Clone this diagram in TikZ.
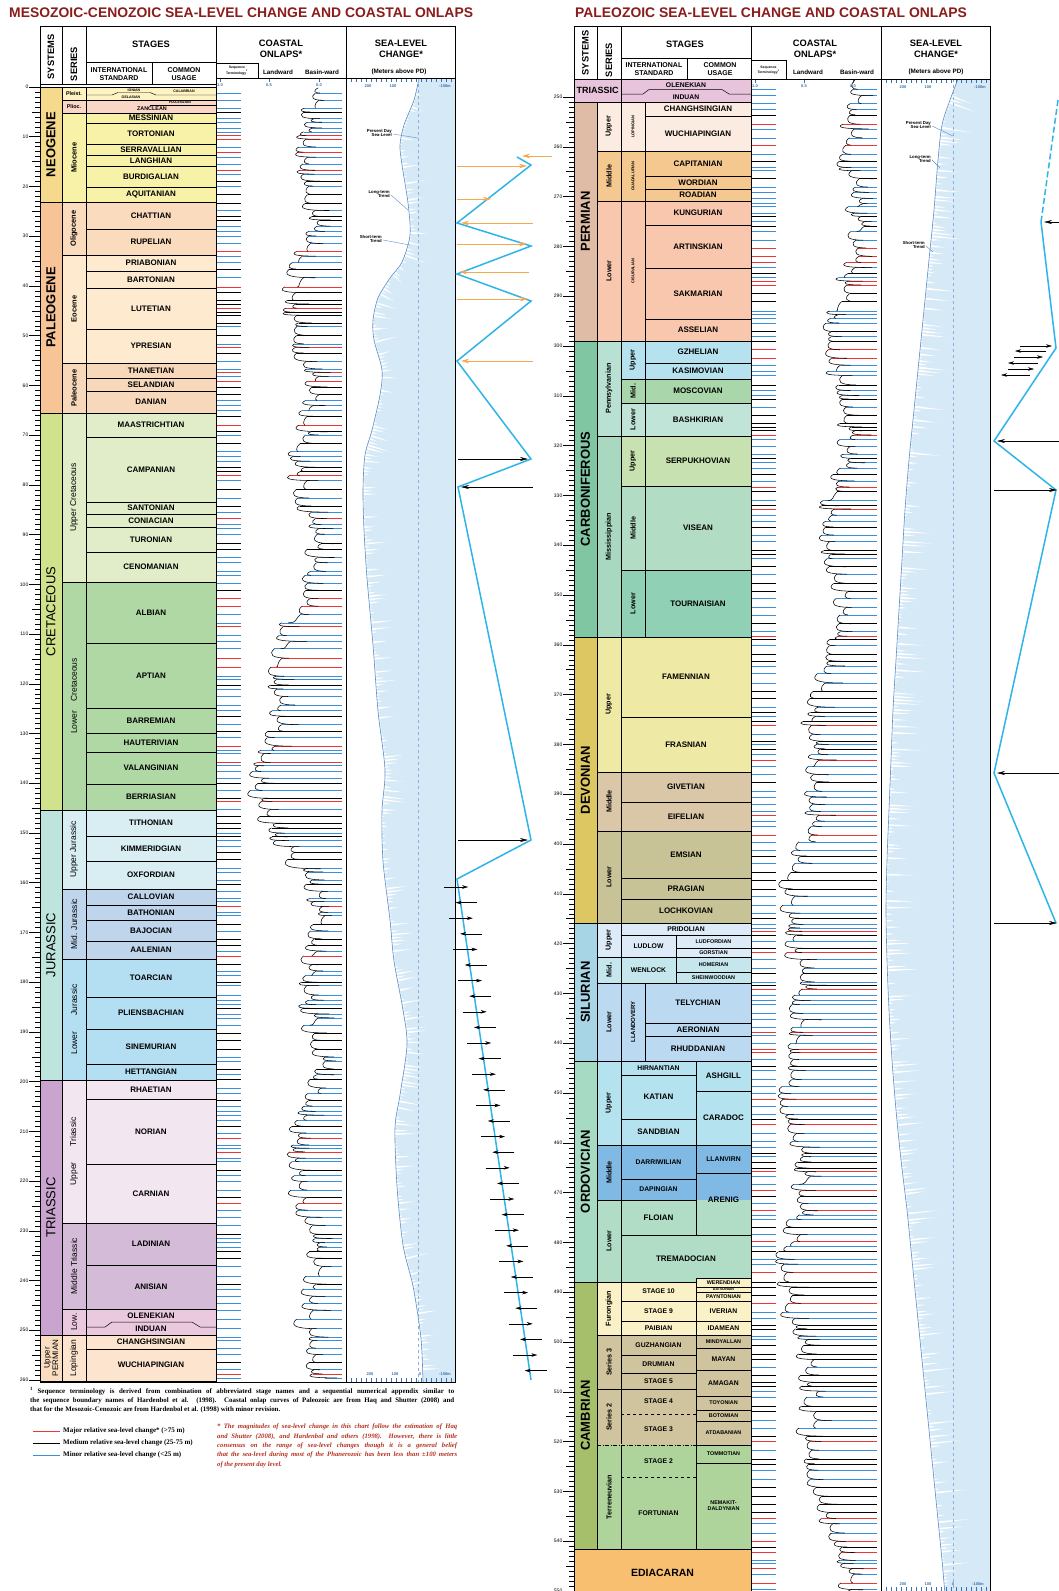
\documentclass[tikz,border=0pt]{standalone}
\usepackage{fontspec}
\setmainfont{Liberation Sans}
\newfontfamily\seriffont{Liberation Serif}
\usetikzlibrary{decorations.markings,arrows.meta}
% ---------- colours ----------
\definecolor{cNeoS}{HTML}{F5D98C}\definecolor{cPlei}{HTML}{FEF3C2}\definecolor{cPlio}{HTML}{F9D6C6}\definecolor{cMio}{HTML}{F8F1A8}
\definecolor{cPalS}{HTML}{F6C496}\definecolor{cOli}{HTML}{FBDBBD}\definecolor{cEoc}{HTML}{FDEACF}\definecolor{cPaleoc}{HTML}{F7D8BA}
\definecolor{cCreS}{HTML}{D0E28C}\definecolor{cUCre}{HTML}{E0EDC8}\definecolor{cLCre}{HTML}{B0D8A5}
\definecolor{cJurS}{HTML}{BEE4DE}\definecolor{cUJur}{HTML}{D8EEF3}\definecolor{cMJur}{HTML}{BFD5EC}\definecolor{cLJur}{HTML}{B4DFF3}
\definecolor{cTriS}{HTML}{C8A4CE}\definecolor{cUTri}{HTML}{F2E6F0}\definecolor{cMTri}{HTML}{D4BCD8}\definecolor{cLTri}{HTML}{EAC9DF}
\definecolor{cPerS}{HTML}{FADCC0}\definecolor{cLop}{HTML}{FCE4CF}
\definecolor{cRTri}{HTML}{E8C4DC}\definecolor{cPerm}{HTML}{DFBCA6}\definecolor{cUPer}{HTML}{FCEBE0}\definecolor{cMPer}{HTML}{F5C890}\definecolor{cLPer}{HTML}{F8C7AD}
\definecolor{cCarb}{HTML}{80C6A3}\definecolor{cPenn}{HTML}{B8E1D4}\definecolor{cUPenn}{HTML}{B6E2F0}\definecolor{cMPenn}{HTML}{A9D6AA}\definecolor{cLPenn}{HTML}{C0E4D8}
\definecolor{cMiss}{HTML}{A9D8C1}\definecolor{cUMiss}{HTML}{C7E1B1}\definecolor{cMMiss}{HTML}{B3DCC4}\definecolor{cLMiss}{HTML}{90D0B5}
\definecolor{cDev}{HTML}{DCC762}\definecolor{cUDev}{HTML}{EFE9A6}\definecolor{cMDev}{HTML}{D9C7A7}\definecolor{cLDev}{HTML}{C7C397}
\definecolor{cSil}{HTML}{A8D5E6}\definecolor{cUSil}{HTML}{DDEAF7}\definecolor{cMSil}{HTML}{C4E6EC}\definecolor{cLSil}{HTML}{BBD9F0}
\definecolor{cOrd}{HTML}{A6DAC2}\definecolor{cUOrd}{HTML}{B4E2EE}\definecolor{cMOrd}{HTML}{7FB9E4}\definecolor{cLOrd}{HTML}{B1DDC6}
\definecolor{cCam}{HTML}{A5BF6A}\definecolor{cFur}{HTML}{FBF1C6}\definecolor{cS3}{HTML}{CFC49D}\definecolor{cTer}{HTML}{AED49C}\definecolor{cEdi}{HTML}{F8BF70}
\definecolor{seafill}{HTML}{D6E9F7}\definecolor{trendc}{HTML}{5A8FC8}\definecolor{lblue}{HTML}{3A8FDB}\definecolor{onred}{HTML}{EE3535}
\definecolor{zigblue}{HTML}{2DB4E8}\definecolor{orng}{HTML}{F6A84E}\definecolor{titlered}{HTML}{8B1C1C}\definecolor{notered}{HTML}{B5301F}
\definecolor{axblue}{HTML}{3A6FB0}
\tikzset{
  cellline/.style={draw=black,line width=0.5pt},
  stg/.style={font=\fontsize{8}{8.5}\selectfont\bfseries,inner sep=0pt},
  stgs/.style={font=\fontsize{6.8}{7}\selectfont\bfseries,inner sep=0pt},
  stgt/.style={font=\fontsize{5.4}{6}\selectfont\bfseries,inner sep=0pt},
  stgx/.style={font=\fontsize{3.6}{4}\selectfont\bfseries,inner sep=0pt},
  sysb/.style={font=\fontsize{13}{14}\selectfont\bfseries,inner sep=0pt,rotate=90},
  sysr/.style={font=\fontsize{13}{14}\selectfont,inner sep=0pt,rotate=90},
  sysp/.style={font=\fontsize{8}{8.5}\selectfont,inner sep=0pt,rotate=90,align=center},
  serb/.style={font=\fontsize{7.5}{8}\selectfont\bfseries,inner sep=0pt,rotate=90},
  serbr/.style={font=\fontsize{7.2}{8}\selectfont\bfseries,inner sep=0pt,rotate=90},
  serr/.style={font=\fontsize{8.5}{9}\selectfont,inner sep=0pt,rotate=90},
  narrow/.style={font=\fontsize{4}{4.5}\selectfont\bfseries,inner sep=0pt,rotate=90},
  narrowb/.style={font=\fontsize{6}{6.5}\selectfont\bfseries,inner sep=0pt,rotate=90},
  edi/.style={font=\fontsize{10.5}{11}\selectfont\bfseries,inner sep=0pt},
  hdr/.style={font=\fontsize{9.3}{11.5}\selectfont\bfseries,inner sep=0pt,align=center},
  hdrm/.style={font=\fontsize{7}{8}\selectfont\bfseries,inner sep=0pt,align=center},
  hdrs/.style={font=\fontsize{6.3}{7}\selectfont\bfseries,inner sep=0pt,align=center},
  hdrx/.style={font=\fontsize{3.4}{3.8}\selectfont\bfseries,inner sep=0pt,align=center},
  ttl/.style={font=\fontsize{13.9}{14}\selectfont\bfseries,text=titlered,inner sep=0pt},
  ticklab/.style={font=\fontsize{5}{5}\selectfont,inner sep=0pt},
  axlab/.style={font=\fontsize{4}{4}\selectfont\bfseries,text=axblue,inner sep=0pt},
  sealab/.style={font=\fontsize{4.3}{4.8}\selectfont\bfseries,inner sep=0pt,align=right,anchor=east},
  frame/.style={draw=black,line width=0.9pt},
  zig/.style={draw=zigblue,line width=1.5pt,line join=miter},
  oarr/.style={draw=orng,line width=0.7pt,-{Stealth[length=8pt,width=4.5pt]}},
  karr/.style={draw=black,line width=0.5pt,-{Stealth[length=8pt,width=4pt]}},
  sarr/.style={draw=black,line width=0.45pt,-{Stealth[length=6pt,width=3.5pt]}},
  legtxt/.style={font=\seriffont\bfseries\fontsize{7}{8}\selectfont,inner sep=0pt,anchor=west},
}
\newcommand{\cellbox}[8][stg]{\path[fill=#7,cellline] (#3,#4) rectangle (#5,#6); \node[#1] (#2) at ({(#3+#5)/2},{(#4+#6)/2}) {#8};}
\begin{document}
\begin{tikzpicture}[x=1pt,y=-1pt]
\useasboundingbox (0,0) rectangle (1059,1591);
\fill[white] (0,0) rectangle (1059,1591);
\pgfmathsetseed{4242}
% ================= titles =================
\node[ttl,anchor=west] (t1) at (9,13) {MESOZOIC-CENOZOIC SEA-LEVEL CHANGE AND COASTAL ONLAPS};
\node[ttl,anchor=west] (t2) at (575,13) {PALEOZOIC SEA-LEVEL CHANGE AND COASTAL ONLAPS};

% ================= sea-level (left) =================
\fill[seafill] plot[smooth] coordinates {(419,78) (414,100) (404,125) (400,145) (402,165) (408,203) (410,235) (402,262) (390,278) (378,298) (373,320) (374,340) (382,370) (380,395) (372,430) (365,455) (363,490) (364,530) (367,578) (373,645) (378,711) (385,770) (382,811) (383,861) (390,920) (394,961) (403,1010) (407,1045) (400,1095) (395,1128) (397,1186) (403,1245) (413,1286) (420,1330) (422,1353) (423,1382)} -- (455,1382) -- (455,78) -- cycle;
\path[decorate,decoration={markings,mark=between positions 0.01 and 0.995 step 3.3pt with {\pgfmathsetmacro\spk{1.5+22*rnd^3}\fill[white] (-1.1pt,0pt) -- (0pt,\spk pt) -- (1.1pt,0pt) -- cycle;}}] plot[smooth] coordinates {(419,78) (414,100) (404,125) (400,145) (402,165) (408,203) (410,235) (402,262) (390,278) (378,298) (373,320) (374,340) (382,370) (380,395) (372,430) (365,455) (363,490) (364,530) (367,578) (373,645) (378,711) (385,770) (382,811) (383,861) (390,920) (394,961) (403,1010) (407,1045) (400,1095) (395,1128) (397,1186) (403,1245) (413,1286) (420,1330) (422,1353) (423,1382)};
\draw[trendc,line width=0.6pt] plot[smooth] coordinates {(419,78) (414,100) (404,125) (400,145) (402,165) (408,203) (410,235) (402,262) (390,278) (378,298) (373,320) (374,340) (382,370) (380,395) (372,430) (365,455) (363,490) (364,530) (367,578) (373,645) (378,711) (385,770) (382,811) (383,861) (390,920) (394,961) (403,1010) (407,1045) (400,1095) (395,1128) (397,1186) (403,1245) (413,1286) (420,1330) (422,1353) (423,1382)};
\draw[trendc!70,dashed,line width=0.5pt] (418,78) -- (418,1382);
% ================= sea-level (right) =================
\fill[seafill] plot[smooth] coordinates {(958,79) (950,100) (942,125) (938,160) (934,210) (929,260) (924,310) (919,360) (914,410) (909,460) (905,510) (902,560) (899,610) (896,660) (893,710) (891,760) (889,810) (887,860) (886,910) (887,960) (889,1010) (892,1060) (896,1110) (901,1160) (907,1210) (912,1260) (917,1310) (922,1360) (927,1410) (932,1460) (937,1510) (942,1560) (945,1595)} -- (990,1595) -- (990,79) -- cycle;
\path[decorate,decoration={markings,mark=between positions 0.01 and 0.995 step 3.3pt with {\pgfmathsetmacro\spk{1.5+30*rnd^3}\fill[white] (-1.1pt,0pt) -- (0pt,\spk pt) -- (1.1pt,0pt) -- cycle;}}] plot[smooth] coordinates {(958,79) (950,100) (942,125) (938,160) (934,210) (929,260) (924,310) (919,360) (914,410) (909,460) (905,510) (902,560) (899,610) (896,660) (893,710) (891,760) (889,810) (887,860) (886,910) (887,960) (889,1010) (892,1060) (896,1110) (901,1160) (907,1210) (912,1260) (917,1310) (922,1360) (927,1410) (932,1460) (937,1510) (942,1560) (945,1595)};
\draw[trendc,line width=0.6pt] plot[smooth] coordinates {(958,79) (950,100) (942,125) (938,160) (934,210) (929,260) (924,310) (919,360) (914,410) (909,460) (905,510) (902,560) (899,610) (896,660) (893,710) (891,760) (889,810) (887,860) (886,910) (887,960) (889,1010) (892,1060) (896,1110) (901,1160) (907,1210) (912,1260) (917,1310) (922,1360) (927,1410) (932,1460) (937,1510) (942,1560) (945,1595)};
\draw[trendc!70,dashed,line width=0.5pt] (953,79) -- (953,1595);

% sea-level labels
\node[sealab] (lsl1) at (392,133) {Present Day\\Sea-Level};
\draw[trendc,line width=0.4pt] (393,134) -- (418,138);
\node[sealab] (lsl2) at (390,194) {Long-term\\Trend};
\draw[trendc,line width=0.4pt] (391,195) -- (408,210);
\node[sealab] (lsl3) at (382,239) {Short-term\\Trend};
\draw[trendc,line width=0.4pt] (383,240) -- (410,245);
\node[sealab] (rsl1) at (931,125) {Present Day\\Sea-Level};
\draw[trendc,line width=0.4pt] (932,126) -- (953,136);
\node[sealab] (rsl2) at (931,159) {Long-term\\Trend};
\draw[trendc,line width=0.4pt] (932,160) -- (940,168);
\node[sealab] (rsl3) at (925,245) {Short-term\\Trend};
\draw[trendc,line width=0.4pt] (926,246) -- (933,252);

% sea-level axes
\foreach \xx in {351,356,...,451}{\draw[axblue,line width=0.5pt] (\xx,78) -- (\xx,82); \draw[axblue,line width=0.5pt] (\xx,1382) -- (\xx,1378);}
\node[axlab] (la1) at (368,86) {200};\node[axlab] (la2) at (393,86) {100};\node[axlab] (la3) at (445,86) {-100m};
\node[axlab] (lb1) at (370,1374) {200};\node[axlab] (lb2) at (395,1374) {100};\node[axlab] (lb3) at (420,1374) {0};\node[axlab] (lb4) at (445,1374) {-100m};
\foreach \xx in {886,891,...,986}{\draw[axblue,line width=0.5pt] (\xx,79) -- (\xx,83); \draw[axblue,line width=0.5pt] (\xx,1591) -- (\xx,1587);}
\node[axlab] (ra1) at (903,87) {200};\node[axlab] (ra2) at (928,87) {100};\node[axlab] (ra3) at (980,87) {-100m};
\node[axlab] (rb1) at (903,1584) {200};\node[axlab] (rb2) at (928,1584) {100};\node[axlab] (rb3) at (953,1584) {0};\node[axlab] (rb4) at (978,1584) {-100m};
% coastal onlap scale
\foreach \xx/\tt/\nm in {220/1.0/a,269/0.5/b,319/0.0/c}{\draw[axblue,line width=0.5pt] (\xx,78) -- (\xx,82); \node[axlab] (lc\nm) at (\xx,85) {\tt};}
\foreach \xx/\tt/\nm in {755/1.0/a,804/0.5/b,853/0.0/c}{\draw[axblue,line width=0.5pt] (\xx,79) -- (\xx,83); \node[axlab] (rc\nm) at (\xx,86) {\tt};}

% ================= coastal onlaps (left) =================
\gdef\onpy{88}\gdef\onpx{318}
\foreach \i in {1,...,320}{
  \pgfmathsetmacro\onh{3+6.5*rnd}
  \pgfmathsetmacro\ony{\onpy+\onh}
  \ifdim\ony pt<1379pt
    \pgfmathsetmacro\ond{(\ony-765)/95}
    \pgfmathsetmacro\one{(\ony-520)/200}
    \pgfmathsetmacro\onx{min(310-42*exp(-\ond*\ond)-10*exp(-\one*\one)+9*sin(2.1*\ony)+7*sin(0.8*\ony+50)+18*(rnd-0.5),332)}
    \pgfmathsetmacro\onc{rnd}
    \ifdim\onc pt<0.15pt \def\oncol{onred}\else\ifdim\onc pt<0.45pt \def\oncol{black}\else\def\oncol{lblue}\fi\fi
    \pgfmathsetmacro\onq{min(\onx+4+14*rnd,337)}
    \draw[\oncol,line width=0.6pt] (\onx,\ony) -- (342,\ony);
    \draw[\oncol,line width=0.6pt] (216,\ony) -- (241,\ony);
    \draw[black,line width=0.55pt] (\onpx,\onpy) .. controls ({\onpx-6},{\onpy+0.6*\onh}) and ({\onpx-3},\ony) .. (\onq,\ony);
    \xdef\onpx{\onx}\xdef\onpy{\ony}
  \fi
}
% ================= coastal onlaps (right) =================
\gdef\onpy{80}\gdef\onpx{855}
\foreach \i in {1,...,340}{
  \pgfmathsetmacro\onh{3+6.5*rnd}
  \pgfmathsetmacro\ony{\onpy+\onh}
  \ifdim\ony pt<1595pt
    \pgfmathsetmacro\ond{(\ony-1130)/380}
    \pgfmathsetmacro\one{(\ony-650)/220}
    \pgfmathsetmacro\onx{min(850-64*exp(-\ond*\ond)-14*exp(-\one*\one)+9*sin(1.9*\ony)+7*sin(0.7*\ony+20)+18*(rnd-0.5),868)}
    \pgfmathsetmacro\onc{rnd}
    \ifdim\onc pt<0.15pt \def\oncol{onred}\else\ifdim\onc pt<0.45pt \def\oncol{black}\else\def\oncol{lblue}\fi\fi
    \pgfmathsetmacro\onq{min(\onx+4+14*rnd,873)}
    \draw[\oncol,line width=0.6pt] (\onx,\ony) -- (877,\ony);
    \draw[\oncol,line width=0.6pt] (751,\ony) -- (776,\ony);
    \draw[black,line width=0.55pt] (\onpx,\onpy) .. controls ({\onpx-6},{\onpy+0.6*\onh}) and ({\onpx-3},\ony) .. (\onq,\ony);
    \xdef\onpx{\onx}\xdef\onpy{\ony}
  \fi
}

% ================= LEFT stage table =================
\cellbox[sysb]{Lneo}{40}{87}{62}{202}{cNeoS}{NEOGENE}
\cellbox[sysb]{Lpal}{40}{202}{62}{413}{cPalS}{PALEOGENE}
\cellbox[sysr]{Lcre}{40}{413}{62}{810}{cCreS}{CRETACEOUS}
\cellbox[sysr]{Ljur}{40}{810}{62}{1080}{cJurS}{JURASSIC}
\cellbox[sysr]{Ltri}{40}{1080}{62}{1335}{cTriS}{TRIASSIC}
\cellbox[sysp]{Lper}{40}{1335}{62}{1381}{cPerS}{Upper\\PERMIAN}
\cellbox[stgt]{Lplei}{62}{87}{86}{100}{cPlei}{Pleist.}
\cellbox[stgt]{Lplio}{62}{100}{86}{113}{cPlio}{Plioc.}
\cellbox[serb]{Lmio}{62}{113}{86}{202}{cMio}{Miocene}
\cellbox[serb]{Loli}{62}{202}{86}{255}{cOli}{Oligocene}
\cellbox[serb]{Leoc}{62}{255}{86}{363}{cEoc}{Eocene}
\cellbox[serb]{Lpaleoc}{62}{363}{86}{413}{cPaleoc}{Paleocene}
\cellbox[serr]{Lucre}{62}{413}{86}{582}{cUCre}{Upper Cretaceous}
\cellbox[serr]{Llcre}{62}{582}{86}{810}{cLCre}{Lower\hspace{9pt}Cretaceous}
\cellbox[serr]{Lujur}{62}{810}{86}{889}{cUJur}{Upper Jurassic}
\cellbox[serr]{Lmjur}{62}{889}{86}{959}{cMJur}{Mid. Jurassic}
\cellbox[serr]{Lljur}{62}{959}{86}{1080}{cLJur}{Lower\hspace{16pt}Jurassic}
\cellbox[serr]{Lutri}{62}{1080}{86}{1223}{cUTri}{Upper\hspace{16pt}Triassic}
\cellbox[serr]{Lmtri}{62}{1223}{86}{1309}{cMTri}{Middle Triassic}
\cellbox[serr]{Lltri}{62}{1309}{86}{1335}{cLTri}{Low.}
\cellbox[serr]{Llop}{62}{1335}{86}{1381}{cLop}{Lopingian}
\path[fill=cPlei,cellline] (86,87) rectangle (216,100);
\path[fill=cPlio,cellline] (86,100) rectangle (216,113);
\draw[line width=0.45pt] (86,95) -- (112,95) -- (118,92.5) -- (150,92.5) -- (156,95) -- (216,95);
\draw[line width=0.45pt] (150,105) -- (216,105);
\node[stgx] (Lion) at (134,90) {IONIAN};
\node[stgx] (Lcalab) at (184,91) {CALABRIAN};
\node[stgx] (Lgel) at (131,97.5) {GELASIAN};
\node[stgx] (Lpia) at (180,102.5) {PIACENZIAN};
\node[stgt] (Lzan) at (152,109) {ZANCLEAN};
\cellbox{Lmes}{86}{113}{216}{123}{cMio}{MESSINIAN}
\cellbox{Ltor}{86}{123}{216}{144}{cMio}{TORTONIAN}
\cellbox{Lser}{86}{144}{216}{155}{cMio}{SERRAVALLIAN}
\cellbox{Llan}{86}{155}{216}{166}{cMio}{LANGHIAN}
\cellbox{Lbur}{86}{166}{216}{187}{cMio}{BURDIGALIAN}
\cellbox{Laqu}{86}{187}{216}{202}{cMio}{AQUITANIAN}
\cellbox{Lcha}{86}{202}{216}{229}{cOli}{CHATTIAN}
\cellbox{Lrup}{86}{229}{216}{255}{cOli}{RUPELIAN}
\cellbox{Lpri}{86}{255}{216}{271}{cEoc}{PRIABONIAN}
\cellbox{Lbar}{86}{271}{216}{288}{cEoc}{BARTONIAN}
\cellbox{Llut}{86}{288}{216}{329}{cEoc}{LUTETIAN}
\cellbox{Lypr}{86}{329}{216}{363}{cEoc}{YPRESIAN}
\cellbox{Ltha}{86}{363}{216}{378}{cPaleoc}{THANETIAN}
\cellbox{Lsel}{86}{378}{216}{391}{cPaleoc}{SELANDIAN}
\cellbox{Ldan}{86}{391}{216}{413}{cPaleoc}{DANIAN}
\cellbox{Lmaa}{86}{413}{216}{437}{cUCre}{MAASTRICHTIAN}
\cellbox{Lcam}{86}{437}{216}{502}{cUCre}{CAMPANIAN}
\cellbox{Lsan}{86}{502}{216}{514}{cUCre}{SANTONIAN}
\cellbox{Lcon}{86}{514}{216}{527}{cUCre}{CONIACIAN}
\cellbox{Ltur}{86}{527}{216}{552}{cUCre}{TURONIAN}
\cellbox{Lcen}{86}{552}{216}{582}{cUCre}{CENOMANIAN}
\cellbox{Lalb}{86}{582}{216}{643}{cLCre}{ALBIAN}
\cellbox{Lapt}{86}{643}{216}{708}{cLCre}{APTIAN}
\cellbox{Lbarr}{86}{708}{216}{733}{cLCre}{BARREMIAN}
\cellbox{Lhau}{86}{733}{216}{752}{cLCre}{HAUTERIVIAN}
\cellbox{Lval}{86}{752}{216}{784}{cLCre}{VALANGINIAN}
\cellbox{Lber}{86}{784}{216}{810}{cLCre}{BERRIASIAN}
\cellbox{Ltit}{86}{810}{216}{836}{cUJur}{TITHONIAN}
\cellbox{Lkim}{86}{836}{216}{861}{cUJur}{KIMMERIDGIAN}
\cellbox{Loxf}{86}{861}{216}{889}{cUJur}{OXFORDIAN}
\cellbox{Lcal}{86}{889}{216}{905}{cMJur}{CALLOVIAN}
\cellbox{Lbat}{86}{905}{216}{920}{cMJur}{BATHONIAN}
\cellbox{Lbaj}{86}{920}{216}{941}{cMJur}{BAJOCIAN}
\cellbox{Laal}{86}{941}{216}{959}{cMJur}{AALENIAN}
\cellbox{Ltoa}{86}{959}{216}{997}{cLJur}{TOARCIAN}
\cellbox{Lpli}{86}{997}{216}{1029}{cLJur}{PLIENSBACHIAN}
\cellbox{Lsin}{86}{1029}{216}{1064}{cLJur}{SINEMURIAN}
\cellbox{Lhet}{86}{1064}{216}{1080}{cLJur}{HETTANGIAN}
\cellbox{Lrha}{86}{1080}{216}{1099}{cUTri}{RHAETIAN}
\cellbox{Lnor}{86}{1099}{216}{1164}{cUTri}{NORIAN}
\cellbox{Lcar}{86}{1164}{216}{1223}{cUTri}{CARNIAN}
\cellbox{Llad}{86}{1223}{216}{1265}{cMTri}{LADINIAN}
\cellbox{Lani}{86}{1265}{216}{1309}{cMTri}{ANISIAN}
\path[fill=cLTri,cellline] (86,1309) rectangle (216,1335);
\draw[line width=0.5pt] (86,1327) -- (105,1327) -- (112,1322) -- (192,1322) -- (200,1327) -- (216,1327);
\node[stg] (Lole) at (151,1315.5) {OLENEKIAN};
\node[stg] (Lind) at (151,1329) {INDUAN};
\cellbox{Lchg}{86}{1335}{216}{1349}{cLop}{CHANGHSINGIAN}
\cellbox{Lwuc}{86}{1349}{216}{1381}{cLop}{WUCHIAPINGIAN}

% left age axis
\foreach \a in {0,...,260}{
  \pgfmathsetmacro\yy{87+4.973*\a}
  \pgfmathtruncatemacro\mten{mod(\a,10)}\pgfmathtruncatemacro\mfive{mod(\a,5)}
  \ifnum\mten=0 \draw[line width=0.5pt] (29,\yy) -- (40,\yy); \node[ticklab,anchor=east] (Lt\a) at (28.5,\yy) {\a};
  \else\ifnum\mfive=0 \draw[line width=0.45pt] (32,\yy) -- (40,\yy);\else \draw[line width=0.4pt] (35,\yy) -- (40,\yy);\fi\fi}

% left frame & header
\draw[frame] (40,26) rectangle (455,1382);
\draw[frame] (62,26) -- (62,84); \draw[frame] (86,26) -- (86,84);
\draw[frame] (216,26) -- (216,1382); \draw[frame] (346,26) -- (346,1382);
\draw[frame] (40,84) -- (216,84); \draw[frame] (216,78) -- (455,78);
\draw[line width=0.6pt] (86,62) -- (216,62); \draw[line width=0.6pt] (152,62) -- (152,84);
\draw[line width=0.6pt] (216,63) rectangle (258,78);
\node[hdr,rotate=90] (LhSys) at (51,57) {SYSTEMS};
\node[hdr,rotate=90] (LhSer) at (74,64) {SERIES};
\node[hdr] (LhStg) at (151,44) {STAGES};
\node[hdrm] (LhInt) at (119,74) {INTERNATIONAL\\STANDARD};
\node[hdrm] (LhCom) at (184,74) {COMMON\\USAGE};
\node[hdr] (LhCoa) at (281,49) {COASTAL\\ONLAPS*};
\node[hdr] (LhSea) at (401,49) {SEA-LEVEL\\CHANGE*};
\node[hdrs] (LhMet) at (399,71.5) {(Meters above PD)};
\node[hdrx] (LhSeq) at (237,70.5) {Sequence\\Terminology\textsuperscript{1}};
\node[hdrs] (LhLan) at (278,72) {Landward};
\node[hdrs] (LhBas) at (322,72) {Basin-ward};

% ================= RIGHT stage table =================
\path[fill=cRTri,cellline] (574,79) rectangle (621,102); \node[font=\fontsize{9}{9}\selectfont\bfseries,inner sep=0pt] (Rtri) at (597.5,90.5) {TRIASSIC};
\path[fill=cRTri,cellline] (621,79) rectangle (751,102);
\draw[line width=0.5pt] (621,94) -- (643,94) -- (649,89.5) -- (722,89.5) -- (729,94) -- (751,94);
\node[stgs] (Role) at (686,85) {OLENEKIAN};
\node[stgs] (Rind) at (686,97) {INDUAN};
\cellbox[sysb]{Rperm}{574}{102}{597}{341}{cPerm}{PERMIAN}
\cellbox[serbr]{RuperS}{597}{102}{621}{151}{cUPer}{Upper}
\cellbox[narrow]{Rlop}{621}{102}{645}{151}{cUPer}{LOPINGIAN}
\cellbox{Rchan}{645}{102}{751}{116}{cUPer}{CHANGHSINGIAN}
\cellbox{Rwuch}{645}{116}{751}{151}{cUPer}{WUCHIAPINGIAN}
\cellbox[serbr]{RmperS}{597}{151}{621}{201}{cMPer}{Middle}
\cellbox[narrow]{Rgua}{621}{151}{645}{201}{cMPer}{GUADALUPIAN}
\cellbox{Rcap}{645}{151}{751}{176}{cMPer}{CAPITANIAN}
\cellbox{Rwor}{645}{176}{751}{189}{cMPer}{WORDIAN}
\cellbox{Rroa}{645}{189}{751}{201}{cMPer}{ROADIAN}
\cellbox[serbr]{RlperS}{597}{201}{621}{341}{cLPer}{Lower}
\cellbox[narrow]{Rcis}{621}{201}{645}{341}{cLPer}{CISURALIAN}
\cellbox{Rkun}{645}{201}{751}{225}{cLPer}{KUNGURIAN}
\cellbox{Rart}{645}{225}{751}{268}{cLPer}{ARTINSKIAN}
\cellbox{Rsak}{645}{268}{751}{319}{cLPer}{SAKMARIAN}
\cellbox{Rass}{645}{319}{751}{341}{cLPer}{ASSELIAN}
\cellbox[sysb]{Rcarb}{574}{341}{597}{637}{cCarb}{CARBONIFEROUS}
\cellbox[serbr]{Rpenn}{597}{341}{621}{436}{cPenn}{Pennsylvanian}
\cellbox[serbr]{Rupenn}{621}{341}{645}{379}{cUPenn}{Upper}
\cellbox{Rgzh}{645}{341}{751}{363}{cUPenn}{GZHELIAN}
\cellbox{Rkas}{645}{363}{751}{379}{cUPenn}{KASIMOVIAN}
\cellbox[serbr]{Rmpenn}{621}{379}{645}{403}{cMPenn}{Mid.}
\cellbox{Rmos}{645}{379}{751}{403}{cMPenn}{MOSCOVIAN}
\cellbox[serbr]{Rlpenn}{621}{403}{645}{436}{cLPenn}{Lower}
\cellbox{Rbas}{645}{403}{751}{436}{cLPenn}{BASHKIRIAN}
\cellbox[serbr]{Rmiss}{597}{436}{621}{637}{cMiss}{Mississippian}
\cellbox[serbr]{Rumiss}{621}{436}{645}{486}{cUMiss}{Upper}
\cellbox{Rserp}{645}{436}{751}{486}{cUMiss}{SERPUKHOVIAN}
\cellbox[serbr]{Rmmiss}{621}{486}{645}{570}{cMMiss}{Middle}
\cellbox{Rvis}{645}{486}{751}{570}{cMMiss}{VISEAN}
\cellbox[serbr]{Rlmiss}{621}{570}{645}{637}{cLMiss}{Lower}
\cellbox{Rtou}{645}{570}{751}{637}{cLMiss}{TOURNAISIAN}
\cellbox[sysb]{Rdev}{574}{637}{597}{923}{cDev}{DEVONIAN}
\cellbox[serbr]{Rudev}{597}{637}{621}{772}{cUDev}{Upper}
\cellbox{Rfam}{621}{637}{751}{717}{cUDev}{FAMENNIAN}
\cellbox{Rfra}{621}{717}{751}{772}{cUDev}{FRASNIAN}
\cellbox[serbr]{Rmdev}{597}{772}{621}{831}{cMDev}{Middle}
\cellbox{Rgiv}{621}{772}{751}{802}{cMDev}{GIVETIAN}
\cellbox{Reif}{621}{802}{751}{831}{cMDev}{EIFELIAN}
\cellbox[serbr]{Rldev}{597}{831}{621}{923}{cLDev}{Lower}
\cellbox{Rems}{621}{831}{751}{878}{cLDev}{EMSIAN}
\cellbox{Rpra}{621}{878}{751}{899}{cLDev}{PRAGIAN}
\cellbox{Rloc}{621}{899}{751}{923}{cLDev}{LOCHKOVIAN}
\cellbox[sysb]{Rsil}{574}{923}{597}{1061}{cSil}{SILURIAN}
\cellbox[serbr]{Rusil}{597}{923}{621}{957}{cUSil}{Upper}
\cellbox[stgs]{Rpri}{621}{923}{751}{935}{cUSil}{PRIDOLIAN}
\cellbox[stgs]{Rlud}{621}{935}{676}{957}{cUSil}{LUDLOW}
\cellbox[stgt]{Rludf}{676}{935}{751}{948}{cUSil}{LUDFORDIAN}
\cellbox[stgt]{Rgor}{676}{948}{751}{957}{cUSil}{GORSTIAN}
\cellbox[serbr]{Rmsil}{597}{957}{621}{983}{cMSil}{Mid.}
\cellbox[stgs]{Rwen}{621}{957}{676}{983}{cMSil}{WENLOCK}
\cellbox[stgt]{Rhom}{676}{957}{751}{972}{cMSil}{HOMERIAN}
\cellbox[stgt]{Rshe}{676}{972}{751}{983}{cMSil}{SHEINWOODIAN}
\cellbox[serbr]{Rlsil}{597}{983}{621}{1061}{cLSil}{Lower}
\cellbox[narrowb]{Rllan}{621}{983}{645}{1061}{cLSil}{LLANDOVERY}
\cellbox{Rtel}{645}{983}{751}{1023}{cLSil}{TELYCHIAN}
\cellbox{Raer}{645}{1023}{751}{1036}{cLSil}{AERONIAN}
\cellbox{Rrhu}{645}{1036}{751}{1061}{cLSil}{RHUDDANIAN}
\cellbox[sysb]{Rord}{574}{1061}{597}{1282}{cOrd}{ORDOVICIAN}
\cellbox[serbr]{Ruord}{597}{1061}{621}{1145}{cUOrd}{Upper}
\cellbox[stgs]{Rhir}{621}{1061}{696}{1075}{cUOrd}{HIRNANTIAN}
\cellbox{Rkat}{621}{1075}{696}{1119}{cUOrd}{KATIAN}
\cellbox{Rsan}{621}{1119}{696}{1145}{cUOrd}{SANDBIAN}
\cellbox{Rash}{696}{1061}{751}{1091}{cUOrd}{ASHGILL}
\cellbox{Rcar}{696}{1091}{751}{1145}{cUOrd}{CARADOC}
\cellbox[serbr]{Rmord}{597}{1145}{621}{1200}{cMOrd}{Middle}
\cellbox[stgs]{Rdar}{621}{1145}{696}{1179}{cMOrd}{DARRIWILIAN}
\cellbox[stgs]{Rdap}{621}{1179}{696}{1200}{cMOrd}{DAPINGIAN}
\cellbox[stgs]{Rllv}{696}{1145}{751}{1173}{cMOrd}{LLANVIRN}
\fill[cMOrd] (696,1173) rectangle (751,1200); \fill[cLOrd] (696,1200) rectangle (751,1235);
\draw[cellline] (696,1173) rectangle (751,1235); \node[stg] (Rare) at (723.5,1200) {ARENIG};
\cellbox[serbr]{Rlord}{597}{1200}{621}{1282}{cLOrd}{Lower}
\cellbox{Rflo}{621}{1200}{696}{1235}{cLOrd}{FLOIAN}
\cellbox{Rtre}{621}{1235}{751}{1282}{cLOrd}{TREMADOCIAN}
\cellbox[sysb]{Rcam}{574}{1282}{597}{1549}{cCam}{CAMBRIAN}
\cellbox[serbr]{Rfur}{597}{1282}{621}{1335}{cFur}{Furongian}
\cellbox[stgs]{Rs10}{621}{1282}{696}{1301}{cFur}{STAGE 10}
\cellbox[stgs]{Rs9}{621}{1301}{696}{1321}{cFur}{STAGE 9}
\cellbox[stgs]{Rpai}{621}{1321}{696}{1335}{cFur}{PAIBIAN}
\cellbox[stgt]{Rwer}{696}{1278}{751}{1287}{cFur}{WERENDIAN}
\cellbox[stgx]{Rdat}{696}{1287}{751}{1292}{cFur}{DATSONIAN}
\cellbox[stgt]{Rpay}{696}{1292}{751}{1301}{cFur}{PAYNTONIAN}
\cellbox[stgs]{Rive}{696}{1301}{751}{1321}{cFur}{IVERIAN}
\cellbox[stgs]{Rida}{696}{1321}{751}{1335}{cFur}{IDAMEAN}
\cellbox[serbr]{Rser3}{597}{1335}{621}{1389}{cS3}{Series 3}
\cellbox[stgs]{Rguz}{621}{1335}{696}{1355}{cS3}{GUZHANGIAN}
\cellbox[stgs]{Rdru}{621}{1355}{696}{1373}{cS3}{DRUMIAN}
\cellbox[stgs]{Rs5}{621}{1373}{696}{1389}{cS3}{STAGE 5}
\cellbox[stgt]{Rmin}{696}{1335}{751}{1348}{cS3}{MINDYALLAN}
\cellbox[stgs]{Rmay}{696}{1348}{751}{1370}{cS3}{MAYAN}
\cellbox[stgs]{Rama}{696}{1370}{751}{1396}{cS3}{AMAGAN}
\cellbox[serbr]{Rser2}{597}{1389}{621}{1445}{cS3}{Series 2}
\cellbox[stgs]{Rs4}{621}{1389}{696}{1414}{cS3}{STAGE 4}
\cellbox[stgs]{Rst3}{621}{1414}{696}{1445}{cS3}{STAGE 3}
\cellbox[stgt]{Rtoy}{696}{1396}{751}{1410}{cS3}{TOYONIAN}
\cellbox[stgt]{Rbot}{696}{1410}{751}{1421}{cS3}{BOTOMIAN}
\cellbox[stgt]{Ratd}{696}{1421}{751}{1445}{cS3}{ATDABANIAN}
\cellbox[serbr]{Rter}{597}{1445}{621}{1549}{cTer}{Terreneuvian}
\cellbox[stgs]{Rst2}{621}{1445}{696}{1477}{cTer}{STAGE 2}
\cellbox[stgs]{Rfor}{621}{1477}{696}{1549}{cTer}{FORTUNIAN}
\cellbox[stgt]{Rtom}{696}{1445}{751}{1463}{cTer}{TOMMOTIAN}
\cellbox[stgt,align=center]{Rnem}{696}{1463}{751}{1549}{cTer}{NEMAKIT-\\DALDYNIAN}
\cellbox[edi]{Redi}{574}{1549}{751}{1596}{cEdi}{EDIACARAN}
\draw[cS3,line width=1pt] (621.6,1414) -- (695.4,1414); \draw[line width=0.5pt,dashed] (621,1414) -- (696,1414);
\draw[cTer,line width=1pt] (621.6,1477) -- (695.4,1477); \draw[line width=0.5pt,dashed] (621,1477) -- (696,1477);
\draw[cS3,line width=0.6pt] (597.6,1444.6) -- (695.4,1444.6); \draw[cTer,line width=0.6pt] (597.6,1445.4) -- (695.4,1445.4);
\draw[line width=0.6pt,dash pattern=on 4pt off 1.5pt on 1pt off 1.5pt] (597,1445) -- (696,1445);

% right age axis
\foreach \a in {250,...,550}{
  \pgfmathsetmacro\yy{97+4.98*(\a-250)}
  \pgfmathtruncatemacro\mten{mod(\a,10)}\pgfmathtruncatemacro\mfive{mod(\a,5)}
  \ifnum\mten=0 \draw[line width=0.5pt] (563,\yy) -- (574,\yy); \node[ticklab,anchor=east] (Rt\a) at (562.5,\yy) {\a};
  \else\ifnum\mfive=0 \draw[line width=0.45pt] (566,\yy) -- (574,\yy);\else \draw[line width=0.4pt] (569,\yy) -- (574,\yy);\fi\fi}

% right frame & header
\draw[frame] (574,26) -- (574,1600); \draw[frame] (574,26) -- (990,26); \draw[frame] (990,26) -- (990,1600);
\draw[frame] (597,26) -- (597,79); \draw[frame] (621,26) -- (621,79);
\draw[frame] (751,26) -- (751,1600); \draw[frame] (881,26) -- (881,1600);
\draw[frame] (574,79) -- (990,79);
\draw[line width=0.6pt] (621,58) -- (751,58); \draw[line width=0.6pt] (687,58) -- (687,79);
\draw[line width=0.6pt] (751,60) rectangle (786,79);
\node[hdr,rotate=90] (RhSys) at (585.5,53) {SYSTEMS};
\node[hdr,rotate=90] (RhSer) at (609,60) {SERIES};
\node[hdr] (RhStg) at (685,44) {STAGES};
\node[hdrm] (RhInt) at (654,69) {INTERNATIONAL\\STANDARD};
\node[hdrm] (RhCom) at (720,69) {COMMON\\USAGE};
\node[hdr] (RhCoa) at (815,49) {COASTAL\\ONLAPS*};
\node[hdr] (RhSea) at (936,49) {SEA-LEVEL\\CHANGE*};
\node[hdrs] (RhMet) at (936,71.5) {(Meters above PD)};
\node[hdrx] (RhSeq) at (768.5,70) {Sequence\\Terminology\textsuperscript{1}};
\node[hdrs] (RhLan) at (808,72) {Landward};
\node[hdrs] (RhBas) at (857,72) {Basin-ward};

% ================= zig-zag lines (left) =================
\coordinate (zA) at (517,157); \coordinate (zP1) at (531,165); \coordinate (zT1) at (457,223);
\coordinate (zP2) at (531,246); \coordinate (zT2) at (457,274); \coordinate (zP3) at (531,301);
\coordinate (zT3) at (457,361); \coordinate (zP4) at (531,459); \coordinate (zT4) at (458,487);
\coordinate (zP5) at (531,840); \coordinate (zT5) at (457,879); \coordinate (zE) at (531,1380);
\draw[zig] (zA) -- (zP1) -- (zT1) -- (zP2) -- (zT2) -- (zP3) -- (zT3) -- (zP4) -- (zT4) -- (zP5) -- (zT5) -- (zE);
\draw[oarr] (552,156) -- (522,156);
\draw[oarr] (457,166) -- (527,166);
\draw[oarr] (457,199) -- (491,199);
\draw[oarr] (533,223) -- (461,223);
\draw[oarr] (457,244) -- (527,244);
\draw[oarr] (529,272) -- (459,272);
\draw[oarr] (457,299) -- (528,299);
\draw[oarr] (533,361) -- (461,361);
\draw[karr] (458,459) -- (528,459);
\draw[karr] (533,487) -- (461,487);
\draw[karr] (458,840) -- (528,840);
\foreach \k in {0,...,31}{
  \pgfmathsetmacro\yy{887+15.6*\k}
  \pgfmathsetmacro\xl{457+(\yy-879)/501*74}
  \pgfmathtruncatemacro\od{mod(\k,2)}
  \ifnum\od=0 \draw[sarr] ({\xl-14},\yy) -- ({\xl+10},\yy);\else \draw[sarr] ({\xl+17},\yy) -- ({\xl-5},\yy);\fi}
% ================= zig-zag lines (right) =================
\coordinate (yA) at (1058,100); \coordinate (yB) at (1041,222); \coordinate (yQ1) at (1056,348);
\coordinate (yR1) at (994,441); \coordinate (yQ2) at (1056,490); \coordinate (yR2) at (994,773); \coordinate (yQ3) at (1056,923);
\draw[zig,dashed,dash pattern=on 6pt off 3pt] (yA) -- (yB);
\draw[zig] (yB) -- (yQ1) -- (yR1) -- (yQ2) -- (yR2) -- (yQ3);
\draw[karr] (1060,222) -- (1044,222);
\draw[sarr] (1020,346) -- (1052,346);
\draw[sarr] (1046,351) -- (1015,351);
\draw[sarr] (1014,357) -- (1043,357);
\draw[sarr] (1038,363) -- (1008,363);
\draw[sarr] (1008,369) -- (1034,369);
\draw[sarr] (1030,375) -- (1001,375);
\draw[karr] (1060,441) -- (997,441);
\draw[karr] (994,490) -- (1057,490);
\draw[karr] (1060,773) -- (997,773);
\draw[karr] (994,923) -- (1057,923);

% ================= footnotes & legend =================
\node[anchor=north west,inner sep=0pt,text width=424pt,align=justify,font=\seriffont\bfseries\fontsize{6.9}{9}\selectfont] (fn) at (30,1387) {\textsuperscript{1} Sequence terminology is derived from combination of abbreviated stage names and a sequential numerical appendix similar to\linebreak the sequence boundary names of Hardenbol et al. (1998). Coastal onlap curves of Paleozoic are from Haq and Shutter (2008) and\linebreak that for the Mesozoic-Cenozoic are from Hardenbol et al. (1998) with minor revision.};
\draw[onred,line width=0.9pt] (33,1431) -- (60,1431);
\draw[black,line width=0.9pt] (33,1443) -- (60,1443);
\draw[lblue,line width=0.9pt] (33,1455) -- (60,1455);
\node[legtxt] (lg1) at (63,1431) {Major relative sea-level change* (>75 m)};
\node[legtxt] (lg2) at (63,1443) {Medium relative sea-level change (25-75 m)};
\node[legtxt] (lg3) at (63,1455) {Minor relative sea-level change (<25 m)};
\node[anchor=north west,inner sep=0pt,text width=240pt,align=justify,text=notered,font=\seriffont\bfseries\itshape\fontsize{6.7}{9.3}\selectfont] (note) at (217,1424) {* The magnitudes of sea-level change in this chart follow the estimation of Haq\linebreak and Shutter (2008), and Hardenbol and others (1998).\quad However, there is little\linebreak consensus on the range of sea-level changes though it is a general belief\linebreak that the sea-level during most of the Phanerozoic has been less than \textpm 100 meters\linebreak of the present day level.};
\end{tikzpicture}
\end{document}
